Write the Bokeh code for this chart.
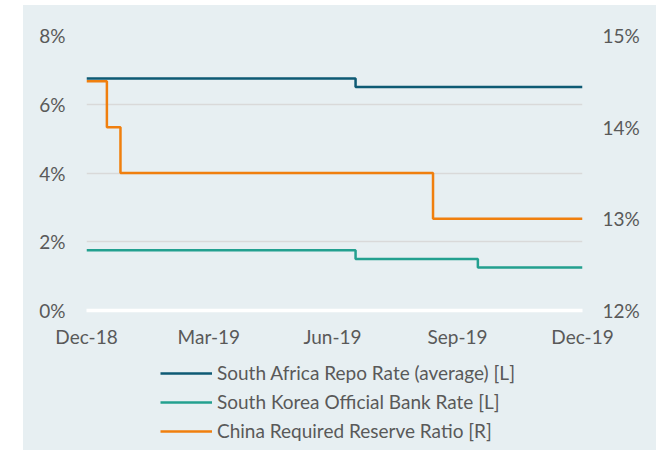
from datetime import datetime
from bokeh.plotting import figure
from bokeh.models import (Range1d, LinearAxis, FixedTicker, DatetimeTickFormatter,
                          Legend, LegendItem, Spacer, ColumnDataSource)
from bokeh.layouts import row, column
from bokeh.embed import file_html
from bokeh.resources import INLINE

# ---- data ----
sa_dates = ["2018-12-31", "2019-07-17", "2019-12-31"]
sa_rates = [6.75, 6.50, 6.50]

kr_dates = ["2018-12-31", "2019-07-17", "2019-10-15", "2019-12-31"]
kr_rates = [1.75, 1.50, 1.25, 1.25]

cn_dates = ["2018-12-31", "2019-01-15", "2019-01-25", "2019-09-12", "2019-12-31"]
cn_rrr = [14.5, 14.0, 13.5, 13.0, 13.0]

x_tick_dates = ["2018-12-31", "2019-03-31", "2019-06-30", "2019-09-30", "2019-12-31"]
left_ticks = [0, 2, 4, 6, 8]
right_ticks = [12, 13, 14, 15]

series_names = ["South Africa Repo Rate (average) [L]",
                "South Korea Official Bank Rate [L]",
                "China Required Reserve Ratio [R]"]
colors = ["#0E5A74", "#23A08F", "#F07F0E"]

def d(s):
    return datetime.strptime(s, "%Y-%m-%d")

def ms(s):
    return (d(s) - datetime(1970, 1, 1)).total_seconds() * 1000.0

BG = "#E7EFF2"
TXT = "#595959"
FONT = "Lato"
FS = "19px"

src_sa = ColumnDataSource(dict(x=[d(s) for s in sa_dates], y=sa_rates))
src_kr = ColumnDataSource(dict(x=[d(s) for s in kr_dates], y=kr_rates))
src_cn = ColumnDataSource(dict(x=[d(s) for s in cn_dates], y=cn_rrr))

# ---------------- main chart ----------------
p = figure(width=633, height=345, output_backend="svg", toolbar_location=None,
           x_axis_type="datetime",
           x_range=Range1d(d(x_tick_dates[0]), d(x_tick_dates[-1])),
           y_range=Range1d(0, 8),
           min_border_left=63, min_border_right=74, min_border_top=30, min_border_bottom=35)
p.background_fill_color = BG
p.border_fill_color = BG
p.outline_line_color = None
p.extra_y_ranges = {"r": Range1d(12, 15)}

p.step("x", "y", source=src_sa, mode="after", line_color=colors[0], line_width=2.5)
p.step("x", "y", source=src_kr, mode="after", line_color=colors[1], line_width=2.5)
p.step("x", "y", source=src_cn, mode="after", line_color=colors[2], line_width=2.5,
       y_range_name="r")

xa = p.xaxis[0]
xa.ticker = FixedTicker(ticks=[ms(s) for s in x_tick_dates])
xa.formatter = DatetimeTickFormatter(days="%b-%y", months="%b-%y", years="%b-%y")
xa.axis_line_color = "white"
xa.axis_line_width = 3.5
xa.major_tick_line_color = None
xa.minor_tick_line_color = None
xa.major_label_standoff = 8
xa.major_label_text_font = FONT
xa.major_label_text_font_size = FS
xa.major_label_text_color = TXT

ya = p.yaxis[0]
ya.ticker = FixedTicker(ticks=left_ticks)
ya.major_label_overrides = {t: f"{t}%" for t in left_ticks}
ya.axis_line_color = None
ya.major_tick_line_color = None
ya.minor_tick_line_color = None
ya.major_label_standoff = 15
ya.major_label_text_font = FONT
ya.major_label_text_font_size = FS
ya.major_label_text_color = TXT

ra = LinearAxis(y_range_name="r", ticker=FixedTicker(ticks=right_ticks))
ra.major_label_overrides = {t: f"{t}%" for t in right_ticks}
ra.axis_line_color = None
ra.major_tick_line_color = None
ra.minor_tick_line_color = None
ra.major_label_standoff = 14
ra.major_label_text_font = FONT
ra.major_label_text_font_size = FS
ra.major_label_text_color = TXT
p.add_layout(ra, "right")

p.xgrid.grid_line_color = None
p.ygrid.ticker = FixedTicker(ticks=left_ticks[1:])
p.ygrid.grid_line_color = "#D9D9D9"
p.ygrid.grid_line_width = 1.5

# ---------------- legend panel ----------------
lg = figure(width=633, height=100, output_backend="svg", toolbar_location=None,
            x_range=Range1d(0, 1), y_range=Range1d(0, 1),
            x_axis_location=None, y_axis_location=None,
            min_border_left=63, min_border_right=74, min_border_top=0, min_border_bottom=0)
lg.background_fill_alpha = 0
lg.border_fill_alpha = 0
lg.outline_line_color = None
lg.grid.grid_line_color = None
l_sa = lg.step("x", "y", source=src_sa, mode="after", line_color=colors[0], line_width=2.5)
l_kr = lg.step("x", "y", source=src_kr, mode="after", line_color=colors[1], line_width=2.5)
l_cn = lg.step("x", "y", source=src_cn, mode="after", line_color=colors[2], line_width=2.5)

legend = Legend(items=[LegendItem(label=series_names[0], renderers=[l_sa]),
                       LegendItem(label=series_names[1], renderers=[l_kr]),
                       LegendItem(label=series_names[2], renderers=[l_cn])],
                location=(74, 8), orientation="vertical")
legend.background_fill_alpha = 0
legend.border_line_color = None
legend.padding = 0
legend.margin = 0
legend.spacing = 6
legend.glyph_width = 52
legend.glyph_height = 20
legend.label_height = 20
legend.label_standoff = 5
legend.label_text_font = FONT
legend.label_text_font_size = FS
legend.label_text_color = TXT
lg.add_layout(legend, "center")

chart = column(p, lg, spacing=0, styles={"background-color": BG})
layout = column(Spacer(width=10, height=5),
                row(Spacer(width=23, height=445), chart),
                spacing=0)
open("out.html", "w").write(file_html(layout, INLINE))
